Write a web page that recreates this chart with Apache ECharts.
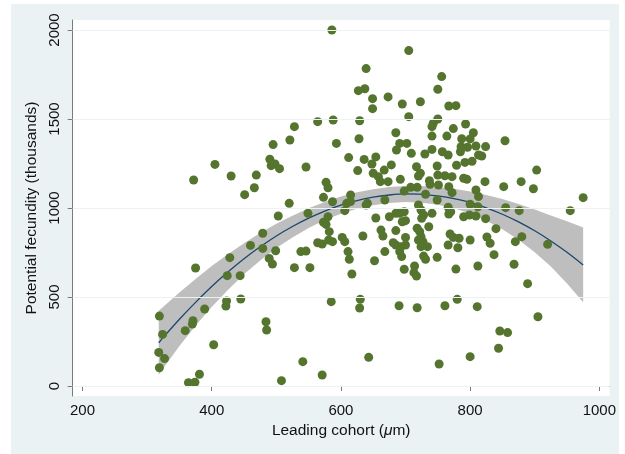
<!DOCTYPE html>
<html><head><meta charset="utf-8">
<script src="https://cdn.jsdelivr.net/npm/echarts@6/dist/echarts.min.js"></script>
<style>html,body{margin:0;padding:0;background:#fff;width:625px;height:454px;overflow:hidden}
#c{position:absolute;left:11px;top:4px;width:608px;height:450px}</style></head>
<body><div id="c"></div><script>
const xTicks = [200, 400, 600, 800, 1000];
const yTicks = [0, 500, 1000, 1500, 2000];

const cohortX = [
319,324,318,327,319,359,370,371,364,374,381,372,375,389,403,405,422,423,424,428,430,444,445,451,460,466,469,479,479,484,485,489,494,490,492,495,498,505,499,503,508,520,521,528,528,538,546,541,546,549,552,564,564,571,571,573,573,577,577,580,
586,705,639,756,627,637,750,649,649,673,695,723,767,778,588,629,705,750,743,741,593,628,685,774,793,805,741,764,691,702,686,787,800,786,796,741,757,766,709,730,612,636,654,785,
626,648,678,717,749,779,792,803,667,650,658,661,673,723,720,737,750,761,772,790,795,738,751,767,772,708,718,698,692,668,731,749,615,615,609,606,587,641,639,580,582,581,587,602,606,634,654,675,685,691,698,695,700,685,700,662,665,681,685,693,700,691,694,668,652,611,613,617,698,714,713,717,720,724,728,725,718,722,724,720,727,724,734,728,731,736,741,749,766,770,767,769,774,783,781,766,778,790,799,800,780,630,800,
585,629,643,690,718,752,761,800,
809,824,854,813,818,903,823,879,852,898,809,813,975,955,812,855,876,809,824,840,826,831,880,870,920,837,812,868,811,844,846,858,889,905
];
const fecundY = [
393,290,189,154,103,311,348,367,19,21,66,1157,663,433,232,1245,449,478,620,721,1180,620,489,1075,790,1114,1185,858,773,361,315,717,685,1274,1238,1356,1247,1221,760,955,30,1026,1382,1457,665,755,758,137,1230,970,665,1485,805,798,62,1060,920,908,1144,1114,
2000,1884,1783,1738,1659,1670,1667,1614,1558,1624,1584,1597,1573,1575,1494,1490,1513,1500,1476,1457,1363,1389,1423,1446,1472,1423,1404,1404,1363,1363,1326,1389,1388,1344,1341,1329,1316,1298,1307,1303,1283,1273,1287,1316,
1210,1247,1242,1232,1236,1240,1256,1262,1213,1195,1176,1148,1148,1195,1180,1153,1185,1181,1176,1167,1161,1133,1129,1120,1086,1116,1116,1095,1161,1045,1077,1045,1073,1036,1026,985,1035,1026,1017,951,867,820,811,835,811,843,944,951,970,970,979,923,929,873,835,876,843,805,792,783,792,755,727,755,704,755,712,629,656,674,637,618,1017,989,961,942,886,867,839,820,811,783,783,730,712,895,970,723,1004,979,966,854,835,830,777,792,657,951,961,820,487,487,1021,
474,438,161,451,440,124,451,165,
1348,1345,1378,1298,1292,1213,1148,1148,1120,1108,1101,1064,1058,985,1007,1002,985,955,940,884,837,802,839,811,796,738,674,684,446,212,309,300,575,389
];

const fitX = [318,325,350,375,400,425,450,475,500,525,550,575,600,625,650,675,700,725,750,775,800,825,850,875,900,925,950,975];
const fitY = [243,273,375,470,559,640,715,782,843,896,943,983,1016,1042,1061,1073,1079,1077,1068,1053,1031,1001,965,922,872,815,751,680];
const ciUpper = [423,446,525,601,674,740,802,859,911,957,998,1034,1064,1088,1106,1118,1124,1124,1118,1108,1093,1073,1050,1022,992,958,926,890];
const ciLower = [63,100,225,339,444,540,628,705,775,835,888,932,968,996,1016,1028,1034,1030,1018,998,969,929,880,822,752,672,576,470];

const FONT = 'Liberation Sans, Arial, Helvetica, sans-serif';
const chart = echarts.init(document.getElementById('c'), null, {renderer: 'canvas'});
const axisCol = '#7a7a7a';
const pts = cohortX.map((x, i) => [x, fecundY[i]]);
const fitPts = fitX.map((x, i) => [x, fitY[i]]);

chart.setOption({
  animation: false,
  backgroundColor: '#EAF2F3',
  grid: {left: 61.7, right: 0.5, top: 16, bottom: 58, show: true, backgroundColor: '#ffffff', borderWidth: 0},
  xAxis: {
    type: 'value', min: 184.8, max: 1016,
    axisLine: {show: true, lineStyle: {color: axisCol, width: 1}},
    axisTick: {show: true, length: 5, customValues: xTicks, lineStyle: {color: axisCol}},
    axisLabel: {customValues: xTicks, formatter: v => String(v), fontSize: 15, color: '#111', margin: 7, fontFamily: FONT},
    splitLine: {show: false},
    name: '{n|Leading cohort (}{i|\u03bc}{n|m)}',
    nameLocation: 'middle', nameGap: 23,
    nameTextStyle: {rich: {n: {fontSize: 15.5, color: '#111', fontFamily: FONT}, i: {fontSize: 15.5, color: '#111', fontStyle: 'italic', fontFamily: FONT}}}
  },
  yAxis: {
    type: 'value', min: -56, max: 2056,
    axisLine: {show: true, lineStyle: {color: axisCol, width: 1}},
    axisTick: {show: true, length: 5, customValues: yTicks, lineStyle: {color: axisCol}},
    axisLabel: {customValues: yTicks, formatter: v => String(v), rotate: 90, fontSize: 15, color: '#111', margin: 10, fontFamily: FONT},
    splitLine: {show: false},
    name: 'Potential fecundity (thousands)',
    nameLocation: 'middle', nameGap: 26,
    nameTextStyle: {fontSize: 15.5, color: '#111', fontFamily: FONT}
  },
  series: [
    {
      type: 'line', data: [], z: 1, silent: true,
      markLine: {
        silent: true, symbol: 'none', label: {show: false},
        lineStyle: {color: '#EAF2F3', width: 1, type: 'solid'},
        data: yTicks.map(v => ({yAxis: v}))
      }
    },
    {
      type: 'custom', z: 2, silent: true,
      data: [[fitX[0], fitY[0]]],
      renderItem: function (params, api) {
        const poly = [];
        for (let i = 0; i < fitX.length; i++) poly.push(api.coord([fitX[i], ciUpper[i]]));
        for (let i = fitX.length - 1; i >= 0; i--) poly.push(api.coord([fitX[i], ciLower[i]]));
        return {type: 'polygon', shape: {points: poly}, style: {fill: '#BEBEBE'}};
      }
    },
    {
      type: 'line', z: 3, data: fitPts, showSymbol: false, smooth: 0.2,
      lineStyle: {color: '#1A476F', width: 1.3}
    },
    {
      type: 'scatter', z: 4, data: pts, symbolSize: 9,
      itemStyle: {color: '#55752F', opacity: 1}
    }
  ]
});
</script></body></html>
